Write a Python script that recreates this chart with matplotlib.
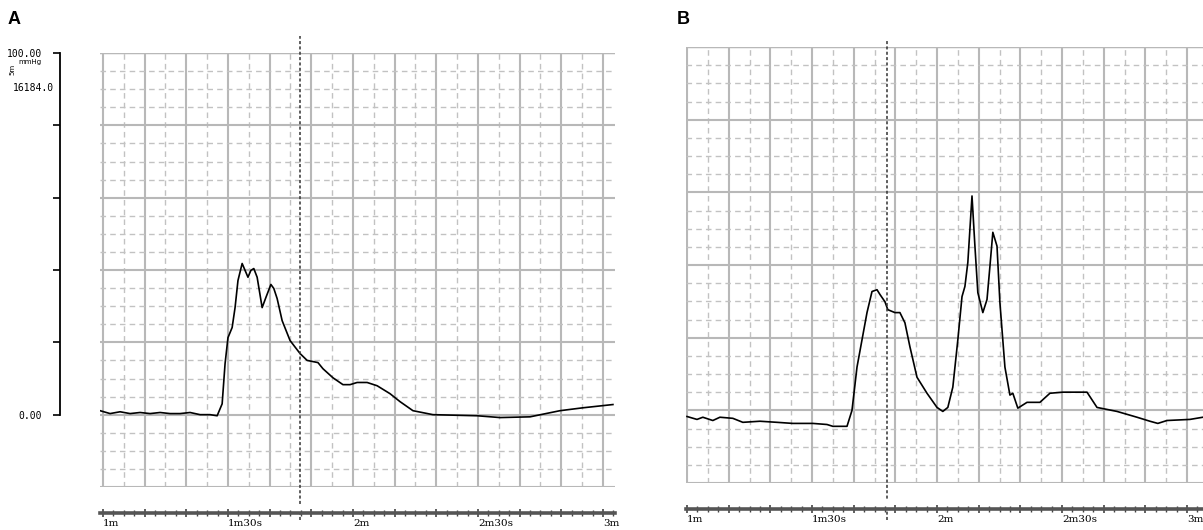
import numpy as np
import matplotlib
matplotlib.use('Agg')
import matplotlib.pyplot as plt
from matplotlib.ticker import MultipleLocator, FixedLocator

# Trace A (time in seconds, pressure units)
time_a = [59.3, 61.7, 64.1, 66.5, 68.9, 71.3, 73.7, 76.1, 78.5, 80.9, 83.3, 85.7,
          87.4, 88.6, 89.3, 90.0, 91.0, 91.7, 92.4, 93.4, 94.1, 94.8, 95.5, 96.2,
          97.0, 98.2, 99.1, 100.3, 101.0, 101.8, 103.0, 104.9, 107.3, 109.0, 111.6,
          112.8, 115.2, 117.6, 119.3, 121.0, 123.4, 125.8, 128.9, 131.3, 134.4,
          139.2, 149.8, 155.3, 162.5, 169.7, 175.2, 182.4]
value_a = [1.1, 0.3, 0.8, 0.3, 0.6, 0.3, 0.6, 0.3, 0.3, 0.6, 0.0, 0.0,
           -0.3, 3.0, 14.1, 21.3, 24.1, 29.6, 37.1, 41.8, 39.9, 38.0, 39.9, 40.4,
           38.0, 29.6, 32.4, 36.0, 34.9, 32.1, 26.0, 20.5, 16.9, 15.0, 14.4,
           12.7, 10.2, 8.3, 8.3, 8.9, 8.9, 8.0, 5.8, 3.6, 1.1,
           0.0, -0.3, -0.8, -0.6, 1.1, 1.9, 2.8]

# Trace B
time_b = [60.0, 62.4, 63.8, 66.2, 67.9, 71.0, 73.4, 77.5, 81.6, 85.4, 90.2, 93.6,
          95.0, 98.4, 99.6, 100.8, 102.0, 103.2, 104.4, 105.6, 106.3, 107.5, 108.2,
          109.9, 111.1, 112.3, 113.5, 115.2, 117.6, 120.0, 121.4, 122.6, 123.8,
          125.0, 126.0, 126.7, 127.4, 128.4, 129.1, 129.8, 131.0, 132.0, 132.7,
          133.4, 134.4, 135.1, 136.3, 137.5, 138.2, 139.4, 141.6, 144.7, 147.1,
          150.2, 156.0, 158.4, 163.2, 168.0, 171.1, 173.0, 175.2, 180.7, 183.8]
value_b = [-1.7, -2.5, -1.9, -2.8, -1.9, -2.2, -3.3, -3.0, -3.3, -3.6, -3.6, -3.9,
           -4.4, -4.4, 0.0, 11.9, 19.4, 26.9, 32.7, 33.2, 31.9, 29.9, 27.7,
           26.9, 26.9, 24.1, 17.5, 9.1, 4.7, 0.8, -0.3, 0.8, 6.4,
           19.4, 31.3, 34.1, 40.7, 59.0, 45.2, 32.4, 26.9, 30.5, 39.6,
           49.0, 45.2, 29.6, 11.9, 4.2, 4.7, 0.6, 2.2, 2.2, 4.7,
           5.0, 5.0, 0.8, -0.3, -1.9, -3.0, -3.6, -2.8, -2.5, -1.9]

marker_a = 107.4
marker_b = 108.0

time_ticks = [60, 90, 120, 150, 180]
time_labels = ['1m', '1m30s', '2m', '2m30s', '3m']

W, H = 1203, 530
fig = plt.figure(figsize=(W / 100, H / 100), dpi=100)


def px_axes(x0, y0, x1, y1):
    return fig.add_axes([x0 / W, 1 - y1 / H, (x1 - x0) / W, (y1 - y0) / H])


def grid_panel(ax, xlim):
    ax.set_xlim(*xlim)
    ax.set_ylim(-20, 100)
    ax.xaxis.set_major_locator(MultipleLocator(10))
    ax.xaxis.set_minor_locator(MultipleLocator(5))
    ax.yaxis.set_major_locator(MultipleLocator(20))
    ax.yaxis.set_minor_locator(MultipleLocator(5))
    ax.grid(True, which='major', color='#b8b8b8', linewidth=1.5, linestyle='-')
    ax.grid(True, which='minor', color='#c2c2c2', linewidth=1.0, linestyle=(0, (4, 3)))
    ax.set_axisbelow(True)
    ax.tick_params(which='both', length=0, labelbottom=False, labelleft=False)
    for s in ax.spines.values():
        s.set_visible(False)


def time_axis(ax, xlim):
    ax.set_xlim(*xlim)
    ax.set_yticks([])
    for s in ['top', 'left', 'right']:
        ax.spines[s].set_visible(False)
    ax.spines['bottom'].set_linewidth(2.6)
    ax.spines['bottom'].set_color('#555555')
    ax.xaxis.set_minor_locator(MultipleLocator(2.5))
    ax.tick_params(axis='x', which='major', direction='inout', length=6, width=1.2,
                   color='#444444', pad=1.5)
    ax.tick_params(axis='x', which='minor', direction='inout', length=4, width=1,
                   color='#444444')
    ax.set_xticks(np.arange(60, 190, 10))
    ax.set_xticklabels([time_labels[time_ticks.index(t)] if t in time_ticks else ''
                        for t in range(60, 190, 10)],
                       family='DejaVu Serif', fontsize=7.5)
    for lab in ax.get_xticklabels():
        lab.set_horizontalalignment('left')


# ---- Panel A ----
xlim_a = (59.28, 182.9)
ax_a = px_axes(100, 53, 615, 487)
grid_panel(ax_a, xlim_a)
ax_a.axhline(100, color='#b8b8b8', lw=1.0, zorder=1)
ax_a.plot(time_a, value_a, color='black', lw=1.2)
ax_a.axvline(marker_a, ymin=-0.076, ymax=1.04, color='#333333', lw=1.1,
             linestyle=(0, (2, 1.5)), clip_on=False)

ta = px_axes(100, 505, 615, 513)
time_axis(ta, xlim_a)

# bracket axis on the left of panel A
ya = px_axes(60, 53, 61, 487)
ya.set_ylim(-20, 100)
ya.set_xticks([])
for s in ['top', 'bottom', 'right']:
    ya.spines[s].set_visible(False)
ya.spines['left'].set_bounds(0, 100)
ya.spines['left'].set_linewidth(1.3)
ya.yaxis.set_major_locator(FixedLocator([0, 20, 40, 60, 80, 100]))
ya.set_yticklabels(['0.00', '', '', '', '', '100.00'], family='DejaVu Sans Mono',
                   fontsize=7)
ya.tick_params(axis='y', direction='out', length=5, width=1.2, pad=8)
ya.patch.set_visible(False)

fig.text(13 / W, 1 - 88 / H, '16184.0', family='DejaVu Sans Mono', fontsize=7,
         va='center', ha='left')
fig.text(18 / W, 1 - 62 / H, 'mmHg', fontsize=5, va='center', ha='left')
fig.text(12 / W, 1 - 69 / H, '5m', fontsize=5, va='center', ha='center', rotation=90)

# ---- Panel B ----
xlim_b = (59.76, 183.84)
ax_b = px_axes(686, 47, 1203, 483)
grid_panel(ax_b, xlim_b)
ax_b.axhline(100, color='#b8b8b8', lw=1.0, zorder=1)
ax_b.plot(time_b, value_b, color='black', lw=1.2)
ax_b.axvline(marker_b, ymin=-0.085, ymax=1.016, color='#333333', lw=1.1,
             linestyle=(0, (2, 1.5)), clip_on=False)

tb = px_axes(686, 500, 1203, 509)
time_axis(tb, xlim_b)

# panel letters
fig.text(8 / W, 1 - 20 / H, 'A', fontsize=13, fontweight='bold',
         family='Liberation Sans', va='center', ha='left')
fig.text(677 / W, 1 - 20 / H, 'B', fontsize=13, fontweight='bold',
         family='Liberation Sans', va='center', ha='left')

fig.savefig('out.png', dpi=100)
